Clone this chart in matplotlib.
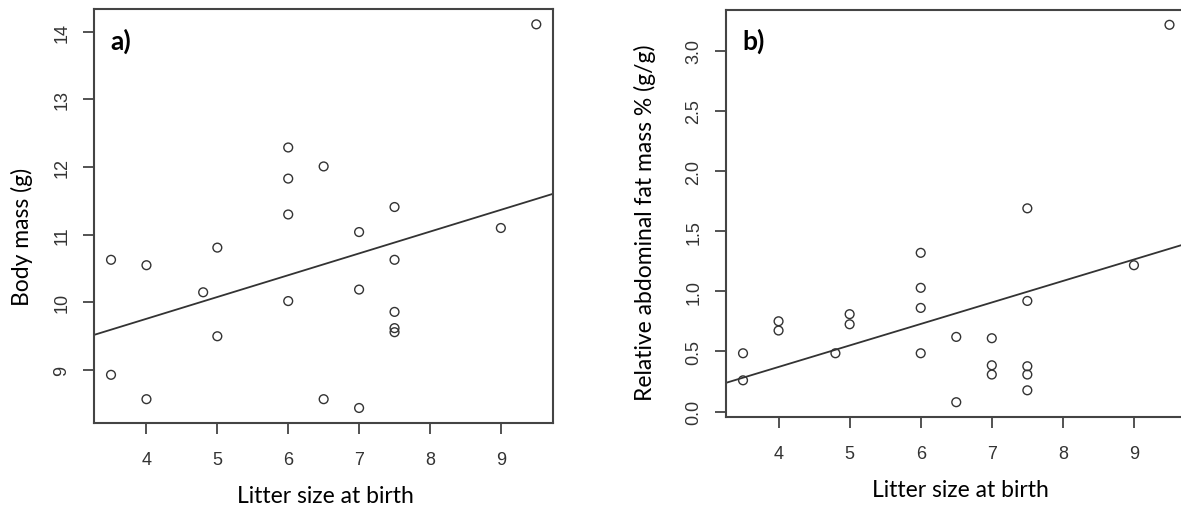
import numpy as np
import matplotlib.pyplot as plt

# litter size at birth (same animals in both panels)
litter_a = [9.5, 6, 6.5, 6, 7.5, 6, 9, 7, 5, 3.5, 7.5, 4, 4.8, 7, 6, 7.5, 7.5, 7.5, 5, 3.5, 4, 6.5, 7]
body_mass = [14.11, 12.29, 12.01, 11.83, 11.41, 11.30, 11.10, 11.04, 10.81, 10.63, 10.63, 10.55,
             10.15, 10.19, 10.02, 9.86, 9.62, 9.56, 9.50, 8.93, 8.57, 8.57, 8.44]

litter_b = [9.5, 7.5, 6, 9, 6, 7.5, 6, 5, 5, 4, 4, 6.5, 7, 3.5, 4.8, 6, 7, 7, 7.5, 7.5, 7.5, 3.5, 6.5]
fat_mass = [3.216, 1.69, 1.32, 1.217, 1.029, 0.92, 0.862, 0.81, 0.726, 0.751, 0.674, 0.621, 0.61,
            0.485, 0.485, 0.485, 0.385, 0.308, 0.377, 0.308, 0.177, 0.26, 0.078]

yticks_a = [9, 10, 11, 12, 13, 14]
yticks_b = [0.0, 0.5, 1.0, 1.5, 2.0, 2.5, 3.0]
xticks = [4, 5, 6, 7, 8, 9]

axcol = '#444444'
lab_font = ['Lato', 'DejaVu Sans']
tick_font = ['Liberation Sans', 'DejaVu Sans']


def r_lim(v):
    lo, hi = min(v), max(v)
    r = hi - lo
    return lo - 0.04 * r, hi + 0.04 * r


def panel(ax, x, y, yticks, ylabels, ylabel, tag, xl_pos, yl_pos):
    ax.scatter(x, y, s=40, facecolors='none', edgecolors='#333333', linewidths=1.0, zorder=3)
    slope, icpt = np.polyfit(x, y, 1)
    ax.axline((0, icpt), slope=slope, color='#333333', lw=1.3)
    ax.set_xlim(r_lim(x))
    ax.set_ylim(r_lim(y))
    ax.set_xticks(xticks)
    ax.set_xticklabels([str(t) for t in xticks], family=tick_font, fontsize=13, color='#333333')
    ax.set_yticks(yticks)
    ax.set_yticklabels(ylabels, family=tick_font, fontsize=13, color='#333333',
                       rotation=90, va='center')
    ax.tick_params(direction='out', length=8, width=1.3, color=axcol)
    ax.tick_params(axis='x', pad=12)
    ax.tick_params(axis='y', pad=9)
    for s in ax.spines.values():
        s.set_color(axcol)
        s.set_linewidth(1.5)
    ax.set_xlabel('Litter size at birth', family=lab_font, fontsize=16.5, va='center')
    ax.set_ylabel(ylabel, family=lab_font, fontsize=16.5, va='center')
    ax.xaxis.set_label_coords(*xl_pos)
    ax.yaxis.set_label_coords(*yl_pos)
    ax.text(0.035, 0.925, tag, transform=ax.transAxes, family=lab_font, fontweight='bold',
            fontsize=19, va='center', ha='left')


fig = plt.figure(figsize=(11.81, 5.10), dpi=100)
ax1 = fig.add_axes([0.0796, 0.168, 0.3889, 0.8124])
ax2 = fig.add_axes([0.6147, 0.1798, 0.39, 0.7992])

panel(ax1, litter_a, body_mass, yticks_a, [str(t) for t in yticks_a], 'Body mass (g)', 'a)',
      (0.503, -0.175), (-0.157, 0.452))
panel(ax2, litter_b, fat_mass, yticks_b, ['%.1f' % t for t in yticks_b],
      'Relative abdominal fat mass % (g/g)', 'b)', (0.51, -0.176), (-0.176, 0.479))

fig.savefig('out.png', dpi=100)
